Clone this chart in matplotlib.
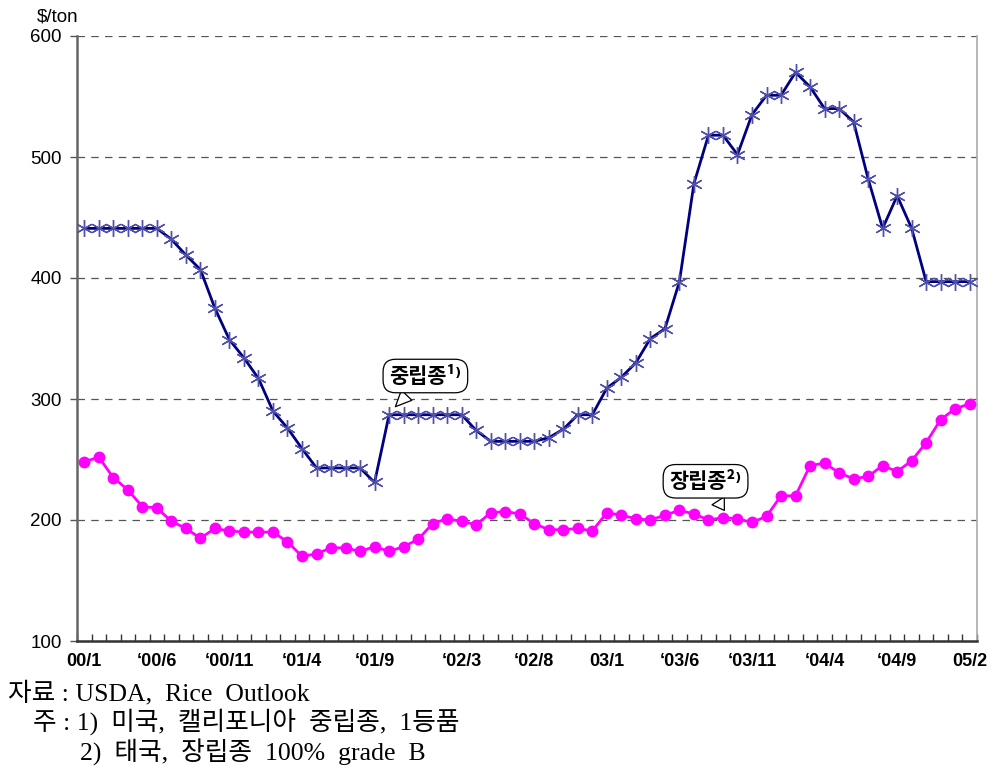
import matplotlib
matplotlib.use("Agg")
import matplotlib.pyplot as plt
import numpy as np

# ---- data ----
medium_grain = [441, 441, 441, 441, 441, 441, 432, 419, 407, 375,
                349, 334, 317, 290, 276, 259, 243, 243, 243, 243,
                231, 287, 287, 287, 287, 287, 287, 274, 265, 265,
                265, 265, 268, 275, 287, 287, 309, 318, 330, 350,
                358, 397, 478, 518, 518, 502, 535, 551, 551, 570,
                558, 540, 540, 529, 482, 441, 468, 441, 397, 397,
                397, 397]
long_grain = [248, 252, 235, 225, 211, 210, 199, 193, 185, 193,
              191, 190, 190, 190, 182, 170, 172, 177, 177, 174,
              178, 174, 178, 184, 197, 201, 199, 196, 206, 207,
              205, 197, 192, 192, 193, 191, 206, 204, 201, 200,
              204, 208, 205, 200, 202, 201, 198, 203, 220, 220,
              245, 247, 239, 234, 236, 245, 240, 249, 264, 283,
              292, 296]
tick_idx = [0, 5, 10, 15, 20, 26, 31, 36, 41, 46, 51, 56, 61]
tick_labels = ["00/1", "\u201800/6", "\u201800/11", "\u201801/4", "\u201801/9",
               "\u201802/3", "\u201802/8", "03/1", "\u201803/6", "\u201803/11",
               "\u201804/4", "\u201804/9", "05/2"]
y_ticks = [100, 200, 300, 400, 500, 600]
label_medium = "중립종\u00b9\u207e"
label_long = "장립종\u00b2\u207e"
notes = ["자료 : USDA,  Rice  Outlook",
         "주 : 1)  미국,  캘리포니아  중립종,  1등품",
         "2)  태국,  장립종  100%  grade  B"]

plt.rcParams['font.family'] = ['Liberation Sans', 'Noto Sans CJK KR', 'DejaVu Sans']

fig = plt.figure(figsize=(9.94, 7.71), dpi=100)
ax = fig.add_axes([77/994, 1-641/771, 900/994, 605/771])

x = np.arange(len(medium_grain))
ax.plot(x, medium_grain, color='#000080', lw=2, zorder=3)
ax.plot(x, medium_grain, ls='none', marker=(6, 2, 0), ms=12, mec='#5050aa', mew=1.0, zorder=4)
ax.plot(x, long_grain, color='#ff00ff', lw=2, marker='o', ms=7.5, mfc='#ff00ff', mec='#ff00ff', zorder=3)

ax.set_xlim(-0.5, len(medium_grain) - 0.5)
ax.set_ylim(100, 600)
ax.set_yticks(y_ticks)
ax.set_yticklabels([str(v) for v in y_ticks], fontsize=13.5)
for v in y_ticks[1:]:
    ax.axhline(v, color='#555555', lw=0.9, ls=(0, (6, 5)), zorder=1)

ax.set_xticks(tick_idx)
ax.set_xticklabels(tick_labels, fontsize=13, fontweight='bold')
ax.tick_params(axis='x', which='major', length=0, pad=9)
ax.set_xticks(np.arange(-0.5, len(medium_grain), 1.0), minor=True)
ax.tick_params(axis='x', which='minor', direction='in', length=5, color='#333333', width=1)
ax.tick_params(axis='y', direction='out', length=5, color='#555555', width=1, pad=6)

ax.spines['top'].set_visible(False)
ax.spines['left'].set_color('#666666')
ax.spines['left'].set_linewidth(1.8)
ax.spines['bottom'].set_color('#333333')
ax.spines['bottom'].set_linewidth(1.8)
ax.spines['right'].set_color('#aaaaaa')
ax.spines['right'].set_linewidth(1.2)

fig.text(37/994, 1-17/771, "$/ton", fontsize=13.5, ha='left', va='center')

ann_kw = dict(fontsize=15, fontweight='bold', ha='center', va='center',
              family=['Noto Sans CJK KR', 'DejaVu Sans'],
              bbox=dict(boxstyle='round,pad=0.3,rounding_size=0.6', fc='white', ec='black', lw=0.9),
              arrowprops=dict(arrowstyle='wedge,tail_width=0.7,shrink_factor=0.5', fc='white', ec='black', lw=0.9),
              zorder=6)
ax.annotate(label_medium, xy=(21.3, 292), xytext=(23.5, 319), **ann_kw)
ax.annotate(label_long, xy=(44.2, 206), xytext=(42.8, 232), **ann_kw)

serif = ['Liberation Serif', 'Noto Sans CJK KR']
fs = 18.5
fig.text(8/994, 1-693/771, notes[0], fontsize=fs, family=serif, ha='left', va='center')
fig.text(33/994, 1-722/771, notes[1], fontsize=fs, family=serif, ha='left', va='center')
fig.text(80/994, 1-752/771, notes[2], fontsize=fs, family=serif, ha='left', va='center')

fig.savefig("out.png", dpi=100)
